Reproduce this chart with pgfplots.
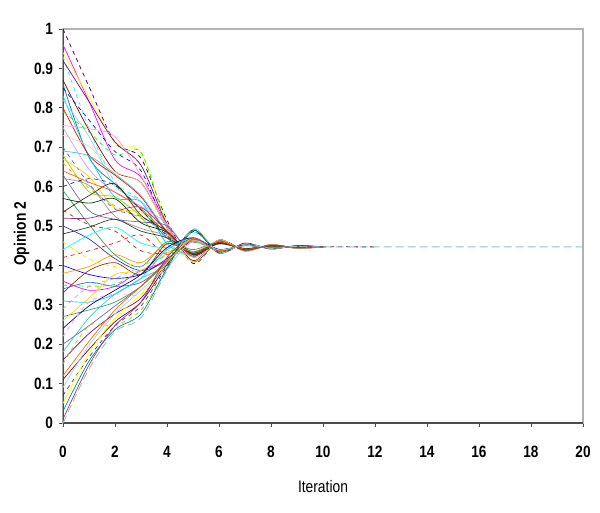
\documentclass[border=0pt]{standalone}
\usepackage{fontspec}
\setmainfont{Liberation Sans}[FakeStretch=0.83]
\usepackage{pgfplots}
\pgfplotsset{compat=1.18}
\definecolor{c1}{HTML}{000080}\definecolor{c2}{HTML}{FF00FF}\definecolor{c3}{HTML}{FFFF00}\definecolor{c4}{HTML}{00FFFF}
\definecolor{c5}{HTML}{800080}\definecolor{c6}{HTML}{800000}\definecolor{c7}{HTML}{008080}\definecolor{c8}{HTML}{0000FF}
\definecolor{c9}{HTML}{00CCFF}\definecolor{c10}{HTML}{99CCFF}\definecolor{c11}{HTML}{FF0000}\definecolor{c12}{HTML}{00FF00}
\definecolor{c13}{HTML}{FF99CC}\definecolor{c14}{HTML}{CC99FF}\definecolor{c15}{HTML}{FFCC99}\definecolor{c16}{HTML}{3366FF}
\definecolor{c17}{HTML}{33CCCC}\definecolor{c18}{HTML}{99CC00}\definecolor{c19}{HTML}{FFCC00}\definecolor{c20}{HTML}{FF9900}
\definecolor{c21}{HTML}{FF6600}\definecolor{c22}{HTML}{666699}\definecolor{c23}{HTML}{969696}\definecolor{c24}{HTML}{003366}
\definecolor{c25}{HTML}{339966}\definecolor{c26}{HTML}{003300}\definecolor{c27}{HTML}{333300}\definecolor{c28}{HTML}{993300}
\definecolor{c29}{HTML}{993366}\definecolor{c30}{HTML}{333399}\definecolor{c31}{HTML}{333333}\definecolor{c32}{HTML}{E6E600}
\definecolor{tealdash}{HTML}{8CC8C8}
\pgfplotscreateplotcyclelist{excel}{%
c1\\c2\\c3\\c4,dashed\\c5\\c6\\c7\\c8,dashed\\c9\\c10\\c11\\c12,dashed\\c13\\c14\\c15\\c16,dashed\\%
c17\\c18\\c19\\c20,dashed\\c21\\c22\\c23\\c24,dashed\\c25\\c26\\c27\\c28,dashed\\c29\\c30\\c31\\c32,dashed\\%
c4\\c11,dashed\\c8\\c20\\c2\\c12,dashed\\c16\\c28\\c9\\c14,dashed\\c25\\c19\\c1\\c13,dashed\\c22\\c17\\%
c5\\c18,dashed\\c21\\c6\\c10\\c30,dashed\\c3\\c7\\c29\\c15,dashed\\}
\begin{document}
\begin{tikzpicture}
\useasboundingbox (-47.25pt,-66.75pt) rectangle (402.75pt,317.25pt);
\begin{axis}[
  scale only axis, width=390pt, height=295.5pt,
  xmin=0, xmax=20, ymin=0, ymax=1,
  xtick={0,2,...,20}, ytick={0,0.1,...,1.0},
  tick align=outside, xtick pos=bottom, ytick pos=left,
  major tick length=3pt,
  tick style={black!70, line width=0.6pt},
  axis line style={draw=black!30, line width=0.8pt},
  /pgf/number format/assume math mode=true,
  ticklabel style={font=\fontsize{12.3}{14}\selectfont\bfseries},
  xticklabel style={yshift=-11pt},
  yticklabel style={xshift=-1pt},
  yticklabel={\pgfmathprintnumber[fixed,precision=1]{\tick}},
  xlabel={Iteration}, ylabel={\bfseries Opinion 2},
  label style={font=\fontsize{12.5}{14}\selectfont},
  xlabel style={at={(axis description cs:0.5,-0.1624)},anchor=center},
  ylabel style={at={(axis description cs:-0.0795,0.48)},anchor=center},
  cycle list name=excel,
  every axis plot/.append style={line width=0.5pt, smooth, tension=0.5},
  clip=true,
]
\draw[black!70, line width=0.8pt] (rel axis cs:0,1) -- (rel axis cs:0,0) -- (rel axis cs:1,0);
\addplot[color=c5!70!black, dashed, line width=0.6pt, smooth] coordinates {(0,1.000)(1,0.854)(2,0.712)(3,0.672)(4,0.515)(5,0.405)(6,0.464)(7,0.439)(8,0.451)(9,0.445)(10,0.447)(12,0.447)};
\addplot coordinates {(0,0.96)(1,0.816)(2,0.668)(3,0.624)(4,0.504)(5,0.410)(6,0.464)(7,0.438)(8,0.452)(9,0.444)(10,0.447)};
\addplot coordinates {(0,0.94)(1,0.827)(2,0.713)(3,0.686)(4,0.507)(5,0.408)(6,0.462)(7,0.4395)(8,0.451)(9,0.445)(10,0.447)};
\addplot coordinates {(0,0.93)(1,0.747)(2,0.612)(3,0.563)(4,0.462)(5,0.422)(6,0.462)(7,0.438)(8,0.452)(9,0.444)(10,0.447)};
\addplot coordinates {(0,0.92)(1,0.816)(2,0.713)(3,0.654)(4,0.505)(5,0.410)(6,0.462)(7,0.440)(8,0.451)(9,0.445)(10,0.447)};
\addplot coordinates {(0,0.87)(1,0.743)(2,0.639)(3,0.610)(4,0.496)(5,0.412)(6,0.465)(7,0.436)(8,0.453)(9,0.443)(10,0.447)};
\addplot coordinates {(0,0.86)(1,0.674)(2,0.606)(3,0.542)(4,0.470)(5,0.432)(6,0.4565)(7,0.442)(8,0.449)(9,0.446)(10,0.447)};
\addplot coordinates {(0,0.85)(1,0.769)(2,0.689)(3,0.640)(4,0.495)(5,0.425)(6,0.457)(7,0.443)(8,0.449)(9,0.446)(10,0.447)};
\addplot coordinates {(0,0.83)(1,0.677)(2,0.574)(3,0.561)(4,0.455)(5,0.427)(6,0.459)(7,0.440)(8,0.451)(9,0.444)(10,0.447)};
\addplot coordinates {(0,0.82)(1,0.727)(2,0.601)(3,0.563)(4,0.488)(5,0.427)(6,0.457)(7,0.442)(8,0.4495)(9,0.446)(10,0.447)};
\addplot coordinates {(0,0.80)(1,0.680)(2,0.629)(3,0.574)(4,0.483)(5,0.427)(6,0.458)(7,0.441)(8,0.450)(9,0.445)(10,0.447)};
\addplot coordinates {(0,0.79)(1,0.739)(2,0.680)(3,0.687)(4,0.500)(5,0.410)(6,0.463)(7,0.438)(8,0.452)(9,0.444)(10,0.447)};
\addplot coordinates {(0,0.755)(1,0.747)(2,0.727)(3,0.627)(4,0.501)(5,0.420)(6,0.4605)(7,0.440)(8,0.450)(9,0.445)(10,0.447)};
\addplot coordinates {(0,0.75)(1,0.644)(2,0.585)(3,0.550)(4,0.505)(5,0.429)(6,0.456)(7,0.4425)(8,0.449)(9,0.446)(10,0.447)};
\addplot coordinates {(0,0.73)(1,0.702)(2,0.638)(3,0.609)(4,0.496)(5,0.410)(6,0.465)(7,0.436)(8,0.453)(9,0.443)(10,0.447)};
\addplot coordinates {(0,0.70)(1,0.607)(2,0.543)(3,0.524)(4,0.478)(5,0.4325)(6,0.455)(7,0.443)(8,0.449)(9,0.446)(10,0.447)};
\addplot coordinates {(0,0.69)(1,0.678)(2,0.632)(3,0.577)(4,0.486)(5,0.426)(6,0.459)(7,0.4405)(8,0.4506)(9,0.445)(10,0.447)};
\addplot coordinates {(0,0.68)(1,0.587)(2,0.573)(3,0.523)(4,0.440)(5,0.430)(6,0.4555)(7,0.443)(8,0.449)(9,0.446)(10,0.447)};
\addplot coordinates {(0,0.67)(1,0.625)(2,0.545)(3,0.535)(4,0.482)(5,0.426)(6,0.4596)(7,0.4394)(8,0.4515)(9,0.444)(10,0.447)};
\addplot coordinates {(0,0.66)(1,0.596)(2,0.551)(3,0.520)(4,0.483)(5,0.429)(6,0.456)(7,0.4425)(8,0.449)(9,0.446)(10,0.447)};
\addplot coordinates {(0,0.64)(1,0.611)(2,0.586)(3,0.544)(4,0.481)(5,0.428)(6,0.457)(7,0.441)(8,0.450)(9,0.445)(10,0.447)};
\addplot coordinates {(0,0.63)(1,0.539)(2,0.517)(3,0.510)(4,0.500)(5,0.428)(6,0.4585)(7,0.440)(8,0.451)(9,0.445)(10,0.447)};
\addplot coordinates {(0,0.62)(1,0.603)(2,0.525)(3,0.494)(4,0.475)(5,0.433)(6,0.454)(7,0.4435)(8,0.449)(9,0.446)(10,0.447)};
\addplot coordinates {(0,0.60)(1,0.620)(2,0.603)(3,0.541)(4,0.475)(5,0.4315)(6,0.4555)(7,0.442)(8,0.4496)(9,0.4455)(10,0.447)};
\addplot coordinates {(0,0.59)(1,0.504)(2,0.427)(3,0.397)(4,0.460)(5,0.440)(6,0.460)(7,0.440)(8,0.451)(9,0.445)(10,0.447)};
\addplot coordinates {(0,0.57)(1,0.558)(2,0.569)(3,0.508)(4,0.484)(5,0.4285)(6,0.456)(7,0.4424)(8,0.4493)(9,0.446)(10,0.447)};
\addplot coordinates {(0,0.535)(1,0.577)(2,0.607)(3,0.527)(4,0.487)(5,0.427)(6,0.457)(7,0.442)(8,0.4495)(9,0.446)(10,0.447)};
\addplot coordinates {(0,0.54)(1,0.503)(2,0.487)(3,0.437)(4,0.432)(5,0.4635)(6,0.438)(7,0.452)(8,0.444)(9,0.448)(10,0.447)};
\addplot coordinates {(0,0.52)(1,0.520)(2,0.537)(3,0.547)(4,0.487)(5,0.423)(6,0.4614)(7,0.438)(8,0.452)(9,0.444)(10,0.447)};
\addplot coordinates {(0,0.50)(1,0.467)(2,0.417)(3,0.387)(4,0.412)(5,0.4645)(6,0.438)(7,0.4514)(8,0.4448)(9,0.448)(10,0.447)};
\addplot coordinates {(0,0.48)(1,0.497)(2,0.517)(3,0.487)(4,0.470)(5,0.435)(6,0.4583)(7,0.4414)(8,0.4498)(9,0.4458)(10,0.447)};
\addplot coordinates {(0,0.46)(1,0.417)(2,0.397)(3,0.407)(4,0.407)(5,0.469)(6,0.435)(7,0.4537)(8,0.4433)(9,0.449)(10,0.447)};
\addplot coordinates {(0,0.44)(1,0.477)(2,0.497)(3,0.457)(4,0.445)(5,0.470)(6,0.4345)(7,0.4533)(8,0.4439)(9,0.4486)(10,0.447)};
\addplot coordinates {(0,0.42)(1,0.437)(2,0.457)(3,0.477)(4,0.427)(5,0.459)(6,0.4398)(7,0.4513)(8,0.4444)(9,0.4486)(10,0.447)};
\addplot coordinates {(0,0.40)(1,0.377)(2,0.367)(3,0.377)(4,0.417)(5,0.462)(6,0.4395)(7,0.4508)(8,0.4451)(9,0.4479)(10,0.447)};
\addplot coordinates {(0,0.38)(1,0.397)(2,0.427)(3,0.407)(4,0.455)(5,0.435)(6,0.460)(7,0.441)(8,0.4505)(9,0.446)(10,0.447)};
\addplot coordinates {(0,0.36)(1,0.337)(2,0.347)(3,0.387)(4,0.412)(5,0.4645)(6,0.4382)(7,0.4514)(8,0.4448)(9,0.448)(10,0.447)};
\addplot coordinates {(0,0.35)(1,0.347)(2,0.352)(3,0.387)(4,0.427)(5,0.459)(6,0.4398)(7,0.4513)(8,0.4444)(9,0.4486)(10,0.447)};
\addplot coordinates {(0,0.34)(1,0.357)(2,0.347)(3,0.357)(4,0.407)(5,0.467)(6,0.437)(7,0.452)(8,0.4445)(9,0.4482)(10,0.447)};
\addplot coordinates {(0,0.33)(1,0.387)(2,0.407)(3,0.377)(4,0.455)(5,0.430)(6,0.458)(7,0.440)(8,0.4505)(9,0.4455)(10,0.447)};
\addplot coordinates {(0,0.31)(1,0.307)(2,0.327)(3,0.367)(4,0.402)(5,0.485)(6,0.4334)(7,0.4545)(8,0.4429)(9,0.449)(10,0.447)};
\addplot coordinates {(0,0.29)(1,0.347)(2,0.367)(3,0.397)(4,0.427)(5,0.459)(6,0.4397)(7,0.4513)(8,0.4444)(9,0.4486)(10,0.447)};
\addplot coordinates {(0,0.27)(1,0.287)(2,0.307)(3,0.347)(4,0.407)(5,0.467)(6,0.437)(7,0.452)(8,0.4445)(9,0.4482)(10,0.447)};
\addplot coordinates {(0,0.26)(1,0.317)(2,0.377)(3,0.387)(4,0.430)(5,0.4635)(6,0.438)(7,0.452)(8,0.4443)(9,0.4485)(10,0.447)};
\addplot coordinates {(0,0.24)(1,0.297)(2,0.337)(3,0.377)(4,0.445)(5,0.470)(6,0.4408)(7,0.4501)(8,0.4454)(9,0.4478)(10,0.447)};
\addplot coordinates {(0,0.22)(1,0.307)(2,0.327)(3,0.327)(4,0.397)(5,0.488)(6,0.4345)(7,0.4533)(8,0.4439)(9,0.4486)(10,0.447)};
\addplot coordinates {(0,0.20)(1,0.247)(2,0.297)(3,0.347)(4,0.412)(5,0.468)(6,0.4344)(7,0.4546)(8,0.4425)(9,0.4497)(10,0.447)};
\addplot coordinates {(0,0.18)(1,0.267)(2,0.327)(3,0.367)(4,0.440)(5,0.462)(6,0.4395)(7,0.4508)(8,0.4451)(9,0.4479)(10,0.447)};
\addplot coordinates {(0,0.16)(1,0.227)(2,0.277)(3,0.317)(4,0.407)(5,0.469)(6,0.435)(7,0.4537)(8,0.4433)(9,0.449)(10,0.447)};
\addplot coordinates {(0,0.15)(1,0.247)(2,0.247)(3,0.287)(4,0.392)(5,0.492)(6,0.4333)(7,0.4539)(8,0.4436)(9,0.4488)(10,0.447)};
\addplot coordinates {(0,0.12)(1,0.207)(2,0.287)(3,0.347)(4,0.412)(5,0.4645)(6,0.4382)(7,0.4514)(8,0.4448)(9,0.448)(10,0.447)};
\addplot coordinates {(0,0.11)(1,0.187)(2,0.257)(3,0.307)(4,0.402)(5,0.490)(6,0.4308)(7,0.4567)(8,0.4413)(9,0.4505)(10,0.447)};
\addplot coordinates {(0,0.09)(1,0.197)(2,0.277)(3,0.337)(4,0.395)(5,0.462)(6,0.4395)(7,0.4508)(8,0.4451)(9,0.4479)(10,0.447)};
\addplot coordinates {(0,0.07)(1,0.167)(2,0.247)(3,0.297)(4,0.397)(5,0.486)(6,0.4345)(7,0.4533)(8,0.4439)(9,0.4486)(10,0.447)};
\addplot coordinates {(0,0.05)(1,0.177)(2,0.267)(3,0.327)(4,0.407)(5,0.469)(6,0.435)(7,0.4537)(8,0.4433)(9,0.449)(10,0.447)};
\addplot coordinates {(0,0.03)(1,0.157)(2,0.237)(3,0.277)(4,0.392)(5,0.489)(6,0.4333)(7,0.4539)(8,0.4436)(9,0.4488)(10,0.447)};
\addplot coordinates {(0,0.01)(1,0.147)(2,0.247)(3,0.307)(4,0.420)(5,0.4695)(6,0.4358)(7,0.4526)(8,0.4442)(9,0.4484)(10,0.447)};
\addplot[color=tealdash, dashed, dash pattern=on 6pt off 3pt, line width=0.7pt, smooth] coordinates {(0,0.00)(1,0.137)(2,0.232)(3,0.267)(4,0.387)(5,0.493)(6,0.432)(7,0.4545)(8,0.4433)(9,0.4484)(10,0.447)(20,0.447)};
\end{axis}
\end{tikzpicture}
\end{document}
